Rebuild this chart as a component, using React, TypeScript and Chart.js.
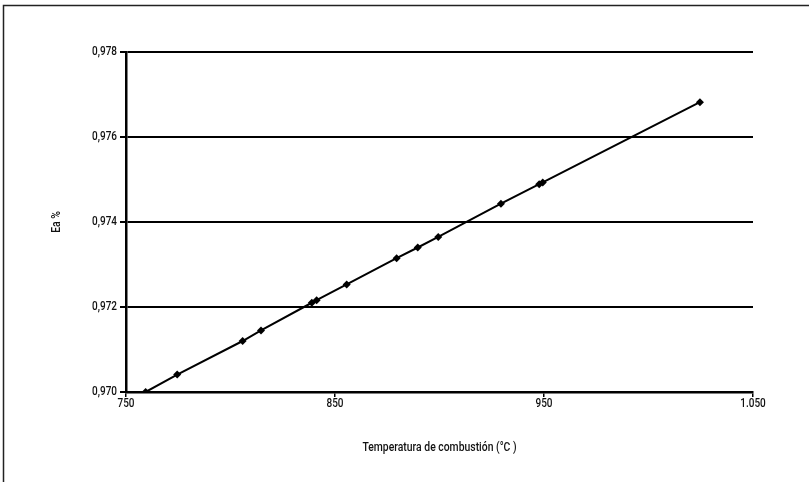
import React, { useEffect, useRef } from "react";
import { Chart, registerables } from "chart.js";

Chart.register(...registerables);

const temperatures = [759.4, 774.5, 805.8, 814.6, 838.9, 841.2, 855.6, 879.5, 889.6, 899.4, 929.4, 947.7, 949.4, 1024.6];
const eaValues = [0.97, 0.97041, 0.9712, 0.97145, 0.9721, 0.97216, 0.97253, 0.97315, 0.9734, 0.97365, 0.97443, 0.97489, 0.97493, 0.97682];
const xTickLabels = ["750", "850", "950", "1.050"];
const yTickLabels = ["0,970", "0,972", "0,974", "0,976", "0,978"];
const xTitle = "Temperatura de combustión (°C )";
const yTitle = "Ea %";

const FONT = "Roboto, 'Liberation Sans', sans-serif";

function drawNarrow(ctx: CanvasRenderingContext2D, text: string, x: number, y: number, align: CanvasTextAlign, size: number, squeeze: number, rot = 0) {
  ctx.save();
  ctx.translate(x, y);
  if (rot) ctx.rotate(rot);
  ctx.scale(squeeze, 1);
  ctx.font = `500 ${size}px ${FONT}`;
  ctx.fillStyle = "#111";
  ctx.textAlign = align;
  ctx.textBaseline = "middle";
  ctx.fillText(text, 0, 0);
  ctx.restore();
}

const frame = {
  id: "frame",
  beforeDraw(chart: any) {
    const ctx = chart.ctx;
    ctx.save();
    ctx.fillStyle = "#fff";
    ctx.fillRect(0, 0, chart.width, chart.height);
    ctx.strokeStyle = "#222";
    ctx.lineWidth = 1.5;
    ctx.strokeRect(3.5, 5.5, chart.width + 20, chart.height + 20);
    ctx.restore();
  },
  afterDraw(chart: any) {
    const ctx = chart.ctx;
    const xs = chart.scales.x;
    const ys = chart.scales.y;
    xs.ticks.forEach((t: any, i: number) => {
      drawNarrow(ctx, xTickLabels[i] ?? "", xs.getPixelForValue(t.value), xs.top + 12, "center", 12.5, 0.8);
    });
    ys.ticks.forEach((t: any, i: number) => {
      drawNarrow(ctx, yTickLabels[i] ?? "", ys.right - 9, ys.getPixelForValue(t.value), "right", 12.5, 0.8);
    });
    const area = chart.chartArea;
    drawNarrow(ctx, xTitle, (area.left + area.right) / 2, xs.top + 56, "center", 13.5, 0.77);
    drawNarrow(ctx, yTitle, 57, (area.top + area.bottom) / 2, "center", 13.5, 0.77, -Math.PI / 2);
  },
};

export default function App() {
  const ref = useRef<HTMLCanvasElement | null>(null);
  useEffect(() => {
    if (!ref.current) return;
    const chart = new Chart(ref.current, {
      type: "line",
      data: {
        datasets: [
          {
            data: temperatures.map((t, i) => ({ x: t, y: eaValues[i] })),
            borderColor: "#000",
            backgroundColor: "#000",
            borderWidth: 2,
            pointStyle: "rectRot",
            pointRadius: 4,
            pointBorderWidth: 0,
            pointBackgroundColor: "#000",
            tension: 0,
          },
        ],
      },
      options: {
        animation: false,
        responsive: true,
        maintainAspectRatio: false,
        layout: { padding: { left: 0, right: 56, top: 52, bottom: 0 } },
        plugins: { legend: { display: false }, tooltip: { enabled: false } },
        scales: {
          x: {
            type: "linear",
            min: 750,
            max: 1050,
            afterFit: (s: any) => { s.height = 90; },
            ticks: { stepSize: 100, display: false },
            grid: { drawOnChartArea: false, drawTicks: true, tickLength: 5, color: "#000", lineWidth: 1.5 },
            border: { color: "#000", width: 2.5 },
          },
          y: {
            min: 0.97,
            max: 0.978,
            afterFit: (s: any) => { s.width = 126; },
            ticks: { stepSize: 0.002, display: false },
            grid: { color: "#000", lineWidth: 2, tickLength: 6 },
            border: { color: "#000", width: 2.5 },
          },
        },
      },
      plugins: [frame],
    });
    return () => chart.destroy();
  }, []);
  return (
    <div style={{ position: "fixed", left: 0, top: 0, width: 809, height: 482 }}>
      <canvas ref={ref} />
    </div>
  );
}
